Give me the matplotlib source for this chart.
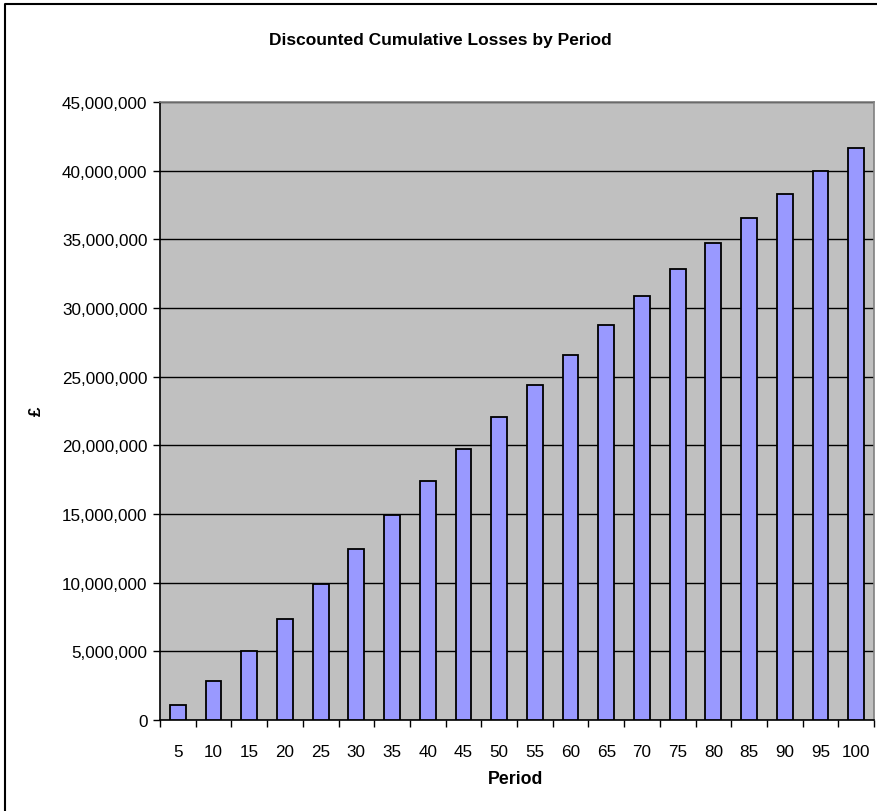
import matplotlib
matplotlib.use("Agg")
import matplotlib.pyplot as plt
from matplotlib.lines import Line2D
from matplotlib.ticker import FuncFormatter, MultipleLocator, FixedLocator
import numpy as np

plt.rcParams['font.family'] = ['Liberation Sans', 'DejaVu Sans']

periods = ["5", "10", "15", "20", "25", "30", "35", "40", "45", "50",
           "55", "60", "65", "70", "75", "80", "85", "90", "95", "100"]
losses = [1.09e6, 2.82e6, 5.02e6, 7.35e6, 9.93e6, 12.45e6, 14.93e6, 17.43e6,
          19.75e6, 22.07e6, 24.39e6, 26.60e6, 28.76e6, 30.86e6, 32.86e6,
          34.72e6, 36.53e6, 38.27e6, 40.00e6, 41.62e6]

title = "Discounted Cumulative Losses by Period"
xlabel = "Period"
ylabel = "£"

W, H = 878, 812
fig = plt.figure(figsize=(W / 100, H / 100), dpi=100)
fig.patch.set_facecolor("white")

ax = fig.add_axes([160 / W, (H - 721) / H, (874 - 160) / W, (721 - 103) / H])
ax.set_facecolor("#C0C0C0")

x = np.arange(len(periods))
ax.bar(x, losses, width=0.44, color="#9999FF", edgecolor="black",
       linewidth=1.3, zorder=3)

ax.set_xlim(-0.5, len(periods) - 0.5)
ax.set_ylim(0, 45e6)
ax.yaxis.set_major_locator(MultipleLocator(5e6))
ax.yaxis.set_major_formatter(FuncFormatter(lambda v, p: f"{int(round(v)):,}"))
ax.grid(axis="y", color="black", linewidth=1.0, zorder=1)

ax.set_xticks(x)
ax.set_xticklabels(periods)
ax.xaxis.set_minor_locator(FixedLocator(np.arange(-0.5, len(periods), 1.0)))
ax.tick_params(axis="x", which="major", length=0, pad=17, labelsize=12.3)
ax.tick_params(axis="x", which="minor", length=5, width=1, color="black")
ax.tick_params(axis="y", length=5, width=1, color="black", pad=4, labelsize=12.3)

for s in ["top", "right"]:
    ax.spines[s].set_color("#808080")
    ax.spines[s].set_linewidth(1.2)
for s in ["left", "bottom"]:
    ax.spines[s].set_color("black")
    ax.spines[s].set_linewidth(1.2)

fig.text(440 / W, 1 - 40 / H, title, ha="center", va="center",
         fontsize=12.5, fontweight="bold")
fig.text(516 / W, 1 - 780 / H, xlabel, ha="center", va="center",
         fontsize=12.8, fontweight="bold")
fig.text(36 / W, 1 - 411 / H, ylabel, ha="center", va="center",
         fontsize=12.3, fontweight="bold", rotation=90)

# outer chart border (left and top visible)
fig.add_artist(Line2D([5 / W, 5 / W, 1.0], [0.0, 1 - 5 / H, 1 - 5 / H],
                      transform=fig.transFigure, color="black", linewidth=1.5))

fig.savefig("out.png", dpi=100)
